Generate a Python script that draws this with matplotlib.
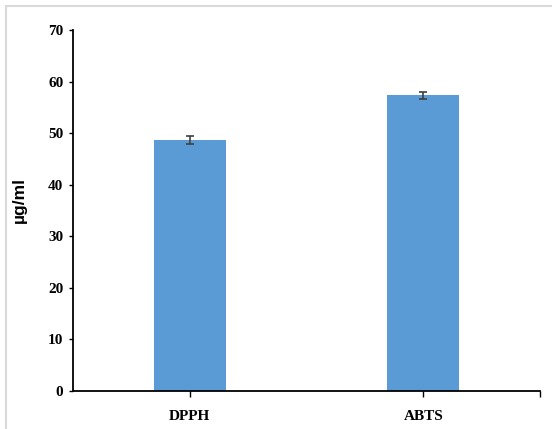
import matplotlib.pyplot as plt
from matplotlib.patches import Rectangle

categories = ['DPPH', 'ABTS']
values = [48.7, 57.3]
errors = [0.8, 0.75]
y_ticks = [0, 10, 20, 30, 40, 50, 60, 70]

fig = plt.figure(figsize=(5.52, 4.29), dpi=100)
ax = fig.add_axes([73 / 552, 1 - 391 / 429, (540 - 73) / 552, (391 - 30) / 429])

x = range(len(categories))
ax.bar(x, values, width=0.31, color='#5B9BD5', zorder=2)
ax.errorbar(x, values, yerr=errors, fmt='none', ecolor='#404040',
            elinewidth=1.2, capsize=3, capthick=1.2, zorder=3)

ax.set_xlim(-0.5, 1.5)
ax.set_ylim(0, 70)
ax.set_yticks(y_ticks)
ax.set_xticks([0, 1, 1.5])
ax.set_xticklabels(categories + [''])

for side in ['top', 'right']:
    ax.spines[side].set_visible(False)
for side in ['left', 'bottom']:
    ax.spines[side].set_linewidth(1.3)
    ax.spines[side].set_color('black')

ax.tick_params(axis='y', direction='out', length=3, width=1, pad=4)
ax.tick_params(axis='x', direction='out', length=4, width=1, pad=10)
for lbl in ax.get_yticklabels() + ax.get_xticklabels():
    lbl.set_fontfamily('Liberation Serif')
    lbl.set_fontweight('bold')
    lbl.set_fontsize(11)

ax.set_ylabel('µg/ml', fontfamily='Liberation Sans', fontweight='bold',
              fontsize=12.5)
ax.yaxis.set_label_coords(-0.0985, 0.53)

# light grey frame around the figure
fig.patches.append(Rectangle((6 / 552, -0.05), 1.1, 1 - 6 / 429 + 0.05,
                             transform=fig.transFigure, fill=False,
                             edgecolor='#d9d9d9', linewidth=1.5))

fig.savefig('out.png', dpi=100)
